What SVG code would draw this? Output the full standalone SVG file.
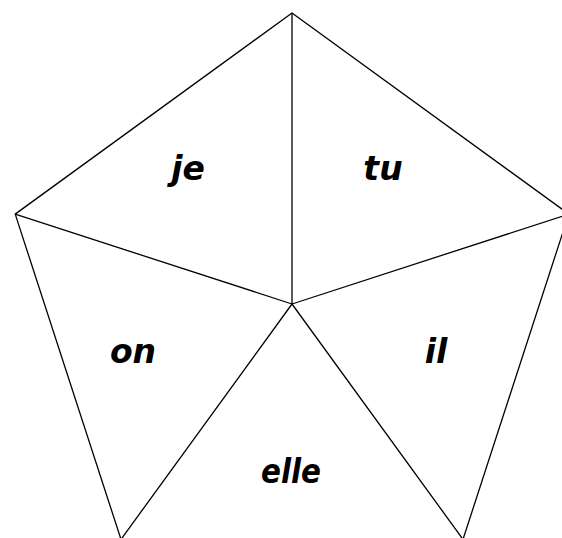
<svg xmlns="http://www.w3.org/2000/svg" width="562" height="538" viewBox="0 0 562 538">
<style>
.e{stroke:#000;stroke-width:1.3;fill:none;stroke-linejoin:miter}
.t{font-family:"DejaVu Sans",sans-serif;font-weight:bold;font-style:italic;font-size:33px;fill:#000;text-anchor:middle}
</style>
<rect width="562" height="538" fill="#fff"/>
<g id="connectors">
<polygon class="e" points="292,13 568.8,214.1 463,539.4 121,539.4 15.2,214.1"/>
<path class="e" d="M292,304 L292,13 M292,304 L568.8,214.1 M292,304 L463,539.4 M292,304 L121,539.4 M292,304 L15.2,214.1"/>
</g>
<g id="je"><text class="t" x="188" y="180">je</text></g>
<g id="tu"><text class="t" x="383" y="180">tu</text></g>
<g id="on"><text class="t" x="133" y="363">on</text></g>
<g id="il"><text class="t" x="436" y="363">il</text></g>
<g id="elle"><text class="t" x="291" y="483" textLength="60" lengthAdjust="spacingAndGlyphs">elle</text></g>
</svg>
